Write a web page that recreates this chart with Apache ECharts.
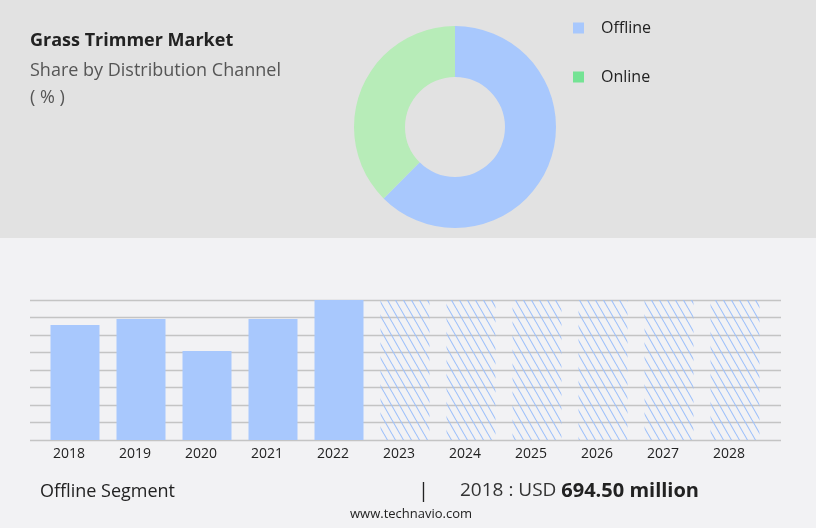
<!DOCTYPE html>
<html><head><meta charset="utf-8">
<script src="https://cdn.jsdelivr.net/npm/echarts@6/dist/echarts.min.js"></script>
<style>html,body{margin:0;padding:0;background:#f2f2f4}#c{width:816px;height:528px}</style>
</head><body><div id="c"></div>
<script>
const years = ['2018','2019','2020','2021','2022','2023','2024','2025','2026','2027','2028'];
const actual = [694.5, 731, 537, 731, 845.5, null, null, null, null, null, null];
const forecast = [null, null, null, null, null, 845.5, 845.5, 845.5, 845.5, 845.5, 845.5];
const channels = ['Offline', 'Online'];
const shares = [62.5, 37.5];
const axisMax = 845.5;

const cv = document.createElement('canvas'); cv.width = 8; cv.height = 14;
const g = cv.getContext('2d'); g.strokeStyle = '#9fc1fa'; g.lineWidth = 1.1;
g.beginPath();
for (let k = -8; k <= 8; k += 8) { g.moveTo(k, 0); g.lineTo(k + 8, 14); }
g.stroke();

const ch = echarts.init(document.getElementById('c'));
ch.setOption({
  backgroundColor: '#f2f2f4',
  animation: false,
  graphic: [
    {type:'rect', shape:{x:0,y:0,width:816,height:238}, style:{fill:'#e2e2e2'}, z:-10},
    {type:'text', left:30, top:32, style:{text:'Grass Trimmer Market', font:'bold 18px "Open Sans"', fill:'#222'}},
    {type:'text', left:30, top:62, style:{text:'Share by Distribution Channel', font:'18px "Open Sans"', fill:'#555'}},
    {type:'text', left:30, top:89, style:{text:'( % )', font:'18px "Open Sans"', fill:'#555'}},
    {type:'text', left:40, top:483, style:{text:'Offline Segment', font:'18px "Open Sans"', fill:'#222'}},
    {type:'text', left:418, top:481, style:{text:'|', font:'20px "Open Sans"', fill:'#222'}},
    {type:'text', left:460, top:481, style:{rich:{a:{font:'19px "Open Sans"',fill:'#333'},b:{font:'bold 20px "Open Sans"',fill:'#222'}}, text:'{a|2018 : USD }{b|694.50 million}'}},
    {type:'text', left:350, top:508, style:{text:'www.technavio.com', font:'13px "Open Sans"', fill:'#222'}}
  ],
  legend: {orient:'vertical', left:568, top:15, itemGap:33, itemWidth:11, itemHeight:11, icon:'rect',
    textStyle:{fontFamily:'Open Sans', fontSize:16, color:'#222', padding:[0,0,0,12]},
    data:[{name:'Offline', itemStyle:{color:'#a8c8fd'}},{name:'Online', itemStyle:{color:'#74e394'}}]},
  grid: [
    {left:42, right:48, top:300, bottom:88},
    {left:30, right:35, top:300, bottom:88}
  ],
  xAxis: [
    {type:'category', gridIndex:0, data:years, axisTick:{show:false}, axisLine:{show:false},
      axisLabel:{fontFamily:'Open Sans', fontSize:14, color:'#222', margin:7, padding:[0,12,0,0]}},
    {type:'category', gridIndex:1, data:years, show:false}
  ],
  yAxis: [
    {type:'value', gridIndex:0, min:0, max:axisMax, show:false, splitLine:{show:false}},
    {type:'value', gridIndex:1, min:0, max:axisMax, interval:axisMax/8, axisLabel:{show:false}, axisLine:{show:false}, axisTick:{show:false},
      splitLine:{lineStyle:{color:'#c4c4c4', width:1.3}}}
  ],
  series: [
    {type:'pie', radius:[50,101], center:[455,127], startAngle:90, label:{show:false}, labelLine:{show:false},
      data: channels.map((n,i)=>({name:n, value:shares[i], itemStyle:{color: i===0?'#a8c8fd':'#b7ecb8'}}))},
    {type:'bar', xAxisIndex:0, yAxisIndex:0, data:actual, barWidth:49, stack:'s', itemStyle:{color:'#a8c8fd'}, z:3},
    {type:'bar', xAxisIndex:0, yAxisIndex:0, data:forecast, barWidth:49, stack:'s', itemStyle:{color:{image:cv, repeat:'repeat'}}, z:3}
  ]
});
</script></body></html>
